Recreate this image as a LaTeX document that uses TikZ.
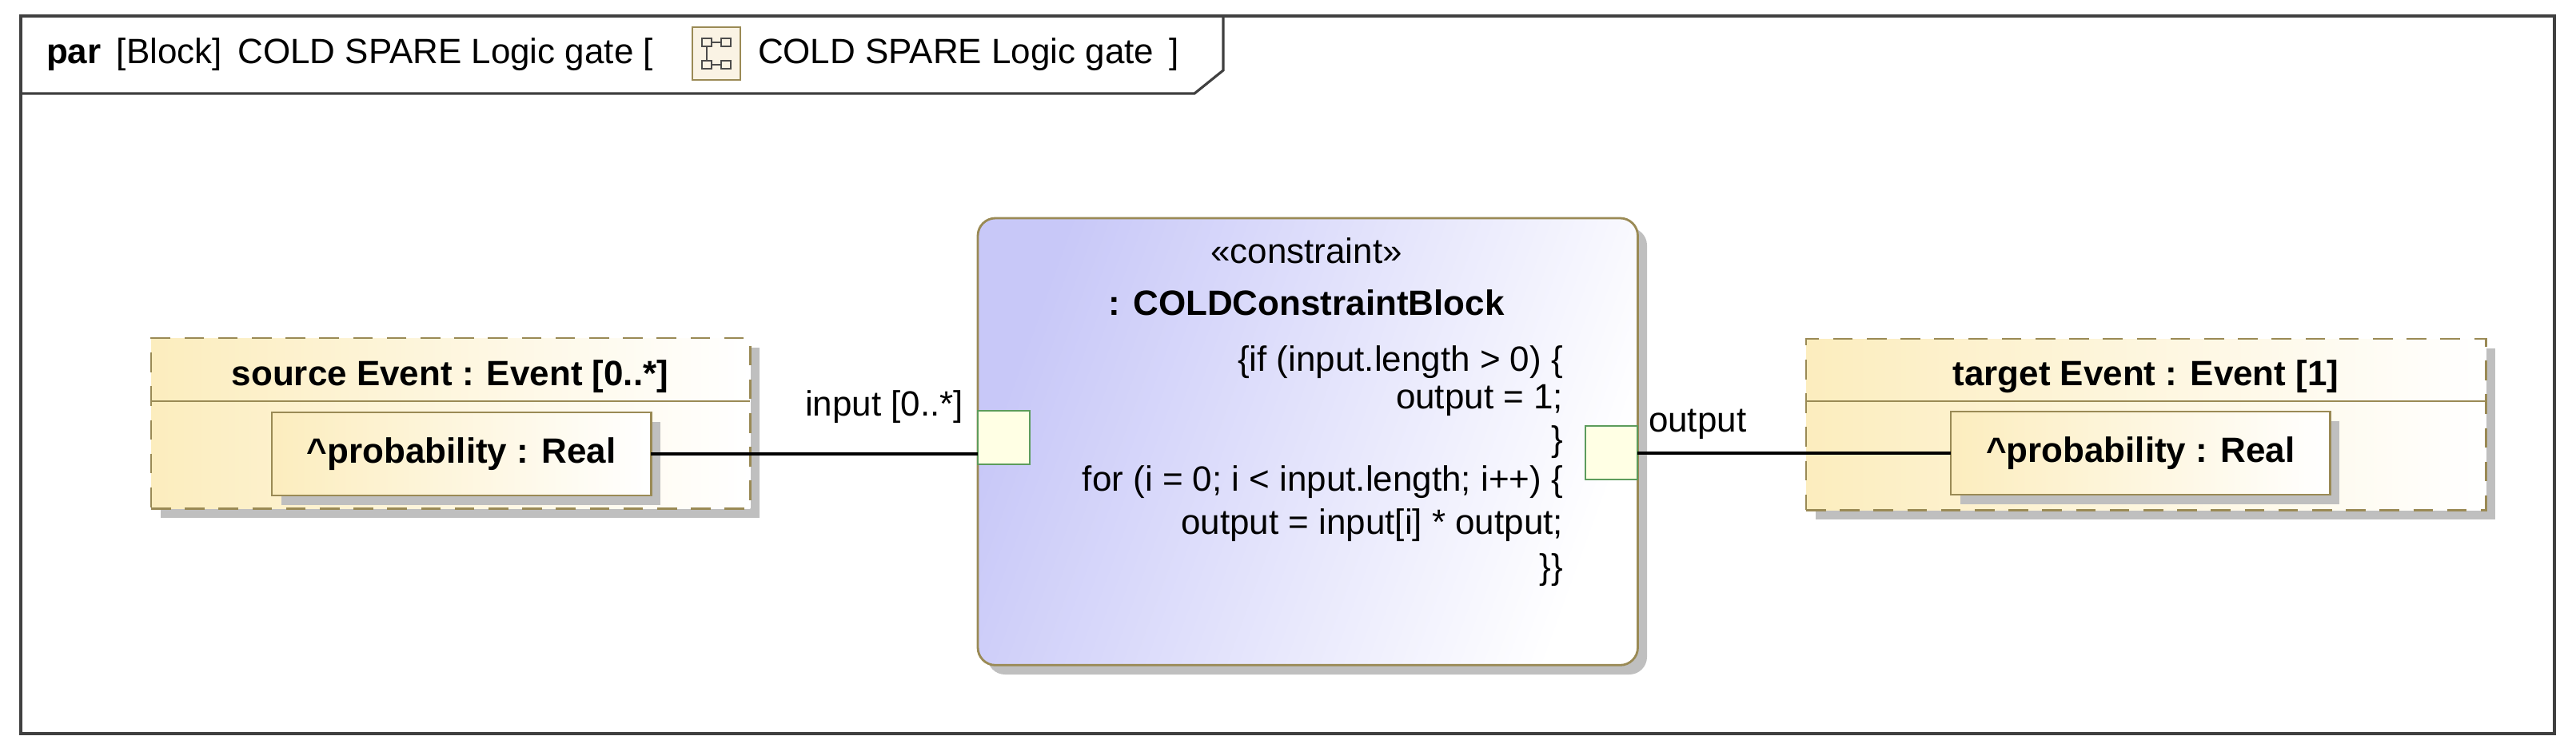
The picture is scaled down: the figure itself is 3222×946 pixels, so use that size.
\documentclass[tikz,border=0pt]{standalone}
\usepackage{fontspec}
\setmainfont{Liberation Sans}
\begin{document}
\begin{tikzpicture}[x=0.01cm,y=-0.01cm,
  every node/.style={inner sep=0pt,outer sep=0pt,font=\fontsize{12.5pt}{14pt}\selectfont},
  olive/.style={draw=border,line width=0.8pt},
  shadow/.style={fill=black!25,draw=none},
  part/.style={olive,dashed,dash pattern=on 7pt off 5pt,left color=partY,right color=white},
  prop/.style={olive,left color=partY,right color=white,minimum width=4.74cm,minimum height=1.04cm},
  port/.style={draw=portG,line width=0.8pt,fill=portF,minimum width=0.65cm,minimum height=0.67cm},
  lbl/.style={anchor=base}]
\definecolor{border}{HTML}{9A8A55}
\definecolor{partY}{HTML}{FCEDBE}
\definecolor{lav}{HTML}{C8C8F8}
\definecolor{portG}{HTML}{5C9C5C}
\definecolor{portF}{HTML}{FFFFE4}
\useasboundingbox (0,0) rectangle (3222,946);
% frame
\draw[line width=0.9pt,draw=black!75] (26,20) rectangle (3195,918);
\draw[line width=0.9pt,draw=black!75] (26,117) -- (1494,117) -- (1530,88) -- (1530,20);
\node[lbl,anchor=base west] (title) at (58,80) {\textbf{par}\ \,[Block]\ \,COLD SPARE Logic gate [};
\node[draw=border,fill=partY!80!brown!30,minimum width=0.6cm,minimum height=0.66cm] (icon) at (896,67) {};
\draw[black!70,line width=0.5pt] (878,48) rectangle (890,58) (902,48) rectangle (914,58) (878,76) rectangle (890,86) (902,76) rectangle (914,86) (890,53)--(902,53) (884,58)--(884,76) (890,81)--(902,81);
\node[lbl,anchor=base west] (title2) at (948,80) {COLD SPARE Logic gate\ \,]};
% source part
\fill[shadow] (201,435) rectangle (950,648);
\node[part,minimum width=7.49cm,minimum height=2.13cm,anchor=north west] (src) at (189,423) {};
\draw[border,line width=0.8pt] (189,502) -- (938,502);
\node[lbl] (srct) at (563,482) {\textbf{source Event : Event [0..*]}};
\fill[shadow] (352,528) rectangle (826,632);
\node[prop,anchor=north west] (srcprop) at (340,516) {\textbf{\^{}probability : Real}};
% target part
\fill[shadow] (2271,436) rectangle (3121,650);
\node[part,minimum width=8.5cm,minimum height=2.14cm,anchor=north west] (tgt) at (2259,424) {};
\draw[border,line width=0.8pt] (2259,502) -- (3109,502);
\node[lbl] (tgtt) at (2684,482) {\textbf{target Event : Event [1]}};
\fill[shadow] (2452,527) rectangle (2926,631);
\node[prop,anchor=north west] (tgtprop) at (2440,515) {\textbf{\^{}probability : Real}};
% constraint block
\fill[shadow,rounded corners=0.22cm] (1235,285) rectangle (2060,844);
\node[olive,rounded corners=0.22cm,left color=lav,right color=white,shading angle=70,minimum width=8.25cm,minimum height=5.59cm,anchor=north west] (cb) at (1223,273) {};
\node[lbl] (st) at (1634,330) {«constraint»};
\node[lbl] (cbn) at (1634,395) {\textbf{: COLDConstraintBlock}};
\node[anchor=base east] (c1) at (1955,465) {\{if (input.length > 0) \{};
\node[anchor=base east] (c2) at (1955,511) {output = 1;};
\node[anchor=base east] (c3) at (1955,564) {\}};
\node[anchor=base east] (c4) at (1955,614) {for (i = 0; i < input.length; i++) \{};
\node[anchor=base east] (c5) at (1955,668) {output = input[i] * output;};
\node[anchor=base east] (c6) at (1955,724) {\}\}};
% ports
\node[port,anchor=north west] (inport) at (1223,514) {};
\node[port,anchor=north east] (outport) at (2048,533) {};
\node[lbl,anchor=base east] (inl) at (1205,520) {input [0..*]};
\node[lbl,anchor=base west] (outl) at (2062,540) {output};
% connectors
\draw[line width=1pt] (srcprop.east) -- (srcprop.east -| inport.west);
\draw[line width=1pt] (tgtprop.west -| outport.east) -- (tgtprop.west);
\end{tikzpicture}
\end{document}
